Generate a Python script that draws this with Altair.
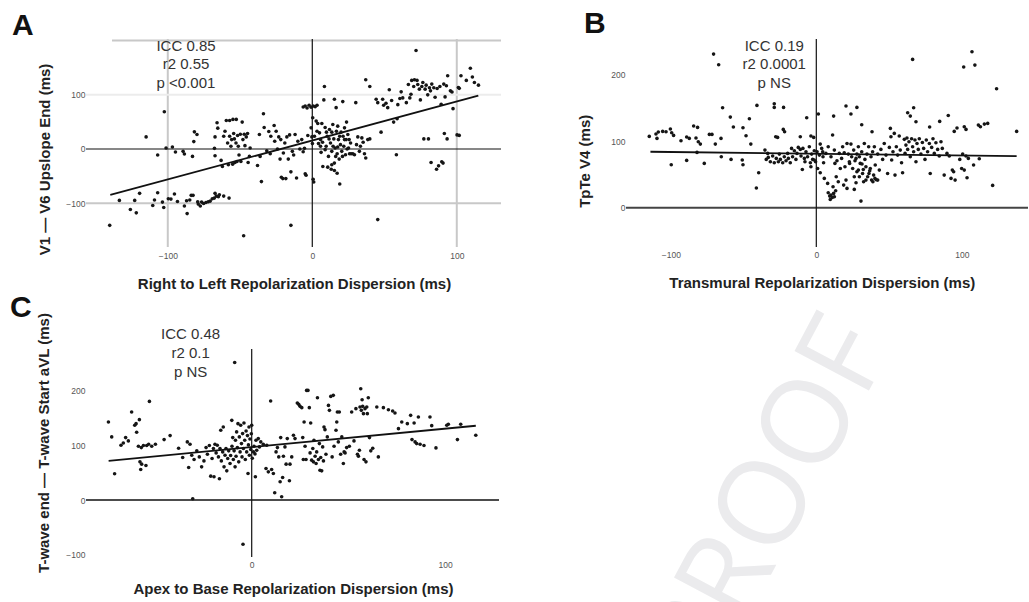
import altair as alt
import pandas as pd

FONT = "Liberation Sans"

# ---------------- Panel A data (x: Right-to-left dispersion, y: V1-V6 upslope end) ----------------
A_POINTS = [
    (-140.2, -140.6), (-133.5, -94.7), (-125.9, -111.5), (-122.9, -94.7), (-121.8, -117.6), (-119.5, -81.7),
    (-115.0, 22.3), (-110.4, -104.0), (-109.2, -94.0), (-107.0, -80.5), (-107.0, -11.0), (-103.7, -97.8),
    (-102.8, -107.7), (-102.4, 68.7), (-101.2, 1.9), (-99.6, -91.6), (-97.8, -92.3), (-96.8, 3.7),
    (-95.4, -83.0), (-94.7, -5.6), (-93.3, -96.6), (-89.4, -4.3), (-88.5, -9.3), (-88.5, -105.0),
    (-87.0, -95.4), (-86.6, -119.0), (-84.8, -94.0), (-83.8, -85.4), (-82.9, -13.6), (-82.5, -85.4),
    (-82.0, 13.6), (-81.6, 31.6), (-79.8, 26.6), (-79.3, -97.2), (-78.9, -101.5), (-77.5, -105.0),
    (-76.6, -97.8), (-75.2, -100.3), (-73.6, -98.5), (-72.0, -97.2), (-70.6, -96.0), (-69.2, -91.6),
    (-67.8, -90.4), (-67.3, -81.7), (-66.4, -86.7), (-65.0, -87.9), (-64.3, -84.2), (-61.3, -86.7),
    (-57.6, -90.4), (-47.5, -159.8),
    (-67.7, 1.2), (-67.3, -12.4), (-67.3, 22.3), (-65.9, 48.3), (-65.4, 38.4), (-63.1, -21.0),
    (-62.2, -32.2), (-61.3, 23.5), (-60.4, 32.8), (-59.5, 52.6), (-58.6, 11.1), (-58.1, -29.1),
    (-57.2, 23.5), (-57.2, 52.6), (-56.3, 5.0), (-55.8, 17.3), (-55.1, -27.9), (-54.9, 54.5),
    (-54.4, 28.5), (-53.9, 18.6), (-53.5, -24.8), (-52.8, 11.1), (-52.6, 54.5), (-52.1, -22.9),
    (-51.7, 24.8), (-51.2, 5.0), (-50.7, -11.1), (-49.8, 27.2), (-49.4, -22.9), (-48.5, 49.5),
    (-48.0, 17.3), (-47.1, 27.2), (-46.6, 6.2), (-45.7, 22.3), (-44.8, 28.5), (-44.4, -24.8),
    (-43.5, -13.6), (-43.0, 1.9), (-37.9, -30.3), (-36.6, 26.6), (-36.1, -13.6), (-35.2, -60.0),
    (-33.8, 65.0), (-33.3, 39.6), (-31.5, -3.1), (-30.1, 32.2), (-29.1, -8.7), (-28.7, 23.5),
    (-26.4, 43.3), (-26.0, 14.2), (-25.0, 32.8), (-24.1, 0.0), (-23.2, 22.3), (-22.3, -18.6),
    (-21.8, 17.3), (-21.4, -52.0), (-20.4, -54.5), (-20.0, -7.4), (-19.0, 11.1), (-18.3, -54.5),
    (-17.6, 22.3), (-16.6, -18.6), (-15.7, 26.0), (-14.8, -42.1), (-14.8, -140.6), (-13.8, -4.3),
    (-12.9, -11.1), (-11.9, 26.6), (-10.9, -53.3), (-10.0, 14.2), (-8.6, 0.0), (-7.3, 17.3),
    (-6.3, -5.0), (-5.4, 1.2), (-4.9, -45.8), (-4.3, -48.3), (-3.1, 24.8), (-6.3, 77.4),
    (-4.9, 79.3), (-3.6, 75.5), (-2.2, 80.5), (-0.8, 76.8), (0.6, 79.3), (2.0, 78.0),
    (3.3, 80.5), (0.3, 57.6), (-0.8, 39.0), (-0.3, 22.3), (0.1, 9.9), (0.6, -55.7), (1.0, -60.7),
    (2.7, 51.4), (3.8, 47.0), (5.0, 29.7), (5.7, 17.3), (6.1, -6.2), (6.6, 47.0), (7.3, -32.2),
    (8.0, 90.4), (8.4, 115.2), (8.9, 39.6), (9.6, 5.0), (10.3, 23.5), (10.7, -33.4), (11.2, -13.6),
    (11.9, 35.9), (12.6, 11.1), (13.1, -37.2), (13.5, -4.3), (14.2, 45.2), (14.9, 18.6),
    (15.3, 91.6), (15.3, -26.0), (15.8, 1.9), (16.5, 76.2), (16.7, 32.8), (17.2, -8.7),
    (17.6, 42.1), (18.1, 17.3), (18.6, -18.6), (19.0, -64.4), (19.5, 8.0), (19.9, 31.0),
    (20.4, -4.3), (21.1, 87.3), (21.3, 23.5), (21.8, 5.0), (22.3, 39.0), (23.0, -10.5),
    (23.4, 17.3), (23.7, 49.5), (24.6, 26.6), (25.1, 1.9), (25.8, -8.7), (26.5, 11.1),
    (26.9, -8.7), (28.1, -8.7), (29.2, -10.5), (30.1, 85.4), (30.6, 8.0), (31.5, 22.3),
    (32.6, -4.3), (33.3, 5.0), (34.3, 20.4), (35.2, 12.4), (36.1, -8.7), (37.0, -16.7),
    (37.0, 127.6), (38.4, 17.3), (39.8, 18.6), (39.8, 115.2), (44.2, 91.6), (45.3, -130.0),
    (45.3, 85.4), (47.6, 31.0), (48.7, 91.6), (49.4, 80.5), (51.0, 84.2), (52.2, 76.2),
    (53.3, 109.0), (54.9, 89.2), (56.3, 49.5), (58.2, -10.5), (58.7, 55.7), (59.2, 81.7),
    (60.6, 92.9), (61.5, 105.3), (62.6, 94.1), (65.1, 85.4), (66.5, 118.9), (67.5, 94.1),
    (68.3, 100.9), (68.8, 126.3), (70.2, 115.2), (70.7, 127.6), (71.8, 181.4), (72.5, 126.3),
    (73.0, 118.9), (74.1, 110.2), (74.8, 90.4), (75.8, 115.2), (76.5, 122.6), (77.2, 18.6),
    (78.1, 110.2), (78.8, 117.6), (79.9, 99.7), (80.4, 18.6), (81.1, 112.7), (81.8, 107.1),
    (82.2, -24.8), (82.7, 119.5), (84.1, 112.7), (85.0, 95.4), (86.0, -37.2), (86.4, 111.5),
    (87.4, -31.0), (88.3, 115.2), (89.2, 82.4), (89.6, -23.5), (90.5, -26.0), (91.0, 119.5),
    (91.4, 28.5), (91.9, 96.0), (92.8, 116.4), (93.3, 18.6), (93.7, 135.0), (95.6, 107.1),
    (97.4, 74.3), (100.2, 26.0), (101.1, 113.3), (102.9, 135.0), (106.6, 126.3), (109.4, 148.6),
    (110.8, 132.5), (112.2, 122.6), (115.0, 117.6), (101.7, 111.7), (96.7, 105.0), (101.7, 25.0),
    (1.5, 23.5), (3.3, 32.8), (4.3, 9.9), (5.7, 5.0), (7.1, 12.4), (8.9, -1.2), (9.8, 31.0),
    (11.6, 18.6), (13.5, 31.0), (14.4, 5.0), (16.2, -13.6), (17.6, 3.7), (19.0, 23.5),
    (20.9, -13.6), (22.3, 17.3), (24.1, 0.0), (25.5, 17.3), (17.2, -44.6), (13.5, -29.1), (15.3, -39.6),
]
A_FIT_X = [-139.8, 114.9]
A_FIT_Y = [-84.7, 98.2]
A_STATS = ["ICC 0.85", "r2 0.55", "p <0.001"]
A_STATS_X = [-87.4, -87.4, -87.4]
A_STATS_Y = [190.2, 156.0, 121.0]
A_X_TICKS = [-100, 0, 100]
A_Y_TICKS = [-100, 0, 100]
A_GRID_X = [-100, 100]
A_GRID_Y = [-100]
A_GRID_Y_FAINT = [100]
A_TOP_LINE = {"y": [200], "x": [-138.6], "x2": [130.6]}

# ---------------- Panel B data (x: Transmural dispersion, y: TpTe V4) ----------------
B_POINTS = [
    (-70.6, 231.0), (-67.1, 215.0), (66.2, 223.0), (107.0, 234.6), (101.3, 211.5), (109.0, 214.5),
    (123.9, 179.0), (137.7, 114.8), (121.2, 33.6), (-64.4, 150.4), (-59.1, 136.3), (-57.0, 121.3),
    (-50.4, 120.3), (-48.3, 108.3), (-46.0, 133.8), (-45.0, 95.7), (-40.8, 153.9), (-39.6, 52.6),
    (-41.2, 29.6), (-28.9, 156.4), (-28.9, 150.9), (-22.5, 150.9), (-27.9, 106.8), (-26.6, 105.8),
    (-22.7, 117.8), (-21.8, 114.3), (-6.6, 135.3), (-11.0, 106.8), (-3.7, 107.8), (-1.8, 105.8),
    (1.4, 140.9), (11.9, 137.8), (20.4, 152.9), (23.8, 140.9), (27.9, 150.9), (31.2, 124.8),
    (38.3, 114.3), (62.8, 142.9), (64.6, 137.8), (66.9, 150.4), (68.5, 129.3), (77.9, 121.3),
    (84.8, 129.8), (90.7, 138.8), (94.8, 114.8), (96.7, 119.8), (101.7, 121.8), (102.9, 117.8),
    (111.4, 124.3), (112.8, 121.8), (115.5, 125.8), (117.8, 126.8),
    (-114.8, 107.3), (-110.2, 110.8), (-109.5, 104.3), (-108.6, 113.8), (-105.6, 114.8),
    (-103.3, 114.3), (-100.3, 118.3), (-99.4, 112.8), (-98.1, 108.8), (-93.0, 100.8),
    (-89.1, 106.3), (-87.3, 104.3), (-84.3, 122.8), (-82.7, 104.8), (-81.6, 120.8), (-81.1, 99.2),
    (-79.7, 95.7), (-82.0, 83.2), (-89.1, 71.2), (-99.7, 64.7), (-77.0, 66.7), (-73.5, 110.3),
    (-71.7, 110.3), (-69.4, 95.7), (-65.5, 104.3), (-65.3, 76.7), (-58.6, 72.7), (-50.9, 71.7),
    (-50.4, 64.7),
    (-35.3, 86.7), (-33.4, 81.7), (-34.4, 72.7), (-33.0, 75.7), (-31.6, 69.2), (-30.0, 77.7),
    (-28.9, 67.7), (-27.5, 74.2), (-26.1, 69.2), (-25.4, 80.7), (-24.7, 72.7), (-23.1, 67.7),
    (-22.0, 76.7), (-20.8, 70.7), (-19.7, 81.7), (-19.2, 74.2), (-17.9, 67.7), (-17.0, 89.2),
    (-16.3, 76.7), (-15.1, 85.7), (-14.0, 72.7), (-13.3, 81.7), (-12.4, 90.7), (-11.0, 87.7),
    (-10.5, 77.7), (-9.6, 57.6), (-9.2, 89.2), (-8.2, 74.2), (-7.1, 84.2), (-6.0, 76.7),
    (-4.8, 91.7), (-4.1, 67.7), (-3.2, 80.7), (-2.5, 72.7), (-1.4, 85.7), (-0.5, 69.2),
    (0.5, 84.2), (0.9, 59.1), (2.1, 79.2), (2.7, 52.6), (3.7, 89.2), (4.6, 76.7), (5.0, 67.7),
    (5.5, 44.1), (6.6, 81.7), (7.8, 36.6), (8.2, 22.6), (9.2, 17.5), (10.1, 19.0), (11.0, 15.5),
    (11.9, 21.6), (12.4, 16.5), (13.3, 25.6), (9.6, 12.5), (11.5, 31.6), (12.8, 66.7),
    (12.4, 86.7), (13.7, 46.6), (15.1, 39.1), (16.5, 59.1), (18.1, 91.7), (18.8, 34.1),
    (19.7, 61.7), (20.4, 41.6), (21.1, 29.1), (22.0, 80.7), (22.9, 66.7), (23.8, 95.7),
    (24.3, 76.7), (25.0, 59.1), (25.7, 86.7), (26.1, 27.6), (27.3, 74.2), (27.9, 54.1),
    (28.9, 91.7), (29.6, 46.6), (30.2, 66.7), (30.7, 10.0), (31.2, 84.2), (31.8, 51.6),
    (32.5, 39.1), (33.0, 96.7), (33.4, 72.7), (34.1, 61.7), (34.8, 80.7), (35.3, 46.6),
    (36.0, 91.7), (36.7, 55.6), (37.6, 76.7), (38.0, 41.6), (38.7, 84.2), (39.4, 49.1),
    (39.9, 91.7), (40.5, 64.2), (41.2, 42.1), (42.2, 80.7), (43.3, 56.6), (44.4, 87.7),
    (45.6, 72.7), (46.7, 96.7), (47.9, 79.2), (49.0, 51.6), (50.2, 90.7), (50.9, 119.3),
    (51.3, 106.8), (51.8, 71.7), (52.7, 84.2), (53.6, 111.8), (54.1, 49.1), (55.0, 91.7),
    (55.9, 79.2), (57.0, 107.8), (57.7, 86.7), (58.6, 67.7), (59.3, 52.6), (60.5, 102.8),
    (61.0, 81.7), (61.6, 94.2), (62.3, 104.8), (62.8, 87.7), (63.7, 99.2), (64.6, 76.7),
    (65.5, 103.8), (66.2, 91.7), (66.9, 84.2), (67.8, 101.8), (68.5, 69.2), (69.2, 96.7),
    (70.1, 87.7), (70.8, 103.8), (71.9, 80.7), (72.9, 98.2), (73.8, 89.2), (74.7, 72.7),
    (75.6, 101.8), (76.5, 84.2), (77.7, 96.7), (78.3, 51.6), (79.3, 90.7), (80.2, 103.8),
    (81.1, 81.7), (82.2, 97.7), (83.4, 87.7), (84.5, 77.7), (85.7, 99.2), (86.6, 89.2),
    (87.9, 49.1), (89.8, 81.7), (91.4, 77.7), (92.6, 44.1), (93.5, 56.6), (94.4, 54.1),
    (95.4, 41.6), (98.6, 72.7), (99.9, 59.1), (100.6, 80.7), (101.7, 56.6), (102.9, 77.7),
    (103.6, 45.1), (104.5, 74.2), (108.1, 64.2), (112.0, 73.7),
    (2.7, 95.7), (4.4, 84.2), (8.2, 91.7), (10.1, 76.7), (11.2, 109.3), (14.2, 70.7),
    (15.8, 81.7), (17.4, 74.2), (19.2, 82.7), (21.1, 96.7), (22.7, 69.2), (26.6, 70.7),
    (27.9, 80.7), (29.6, 76.7), (31.4, 65.7), (32.3, 57.6), (36.2, 51.6), (37.1, 59.1),
    (38.9, 39.1), (40.3, 44.1), (26.1, 46.6), (27.3, 37.6), (28.9, 56.6), (34.1, 41.6),
    (42.2, 41.6), (-1.4, 71.7), (-3.7, 61.7), (-7.8, 69.2),
]
B_FIT_X = [-114.0, 137.7]
B_FIT_Y = [84.2, 77.7]
B_STATS = ["ICC 0.19", "r2 0.0001", "p NS"]
B_STATS_X = [-28.9, -28.9, -28.9]
B_STATS_Y = [243.6, 215.6, 187.0]
B_X_TICKS = [-100, 0, 100]
B_Y_TICKS = [0, 100, 200]

# ---------------- Panel C data (x: Apex-to-base dispersion, y: T-wave end - start aVL) ----------------
C_POINTS = [
    (-74.1, 142.7), (-72.4, 115.4), (-70.9, 48.0), (-67.6, 100.2), (-66.4, 104.4), (-65.2, 114.1),
    (-63.8, 108.1), (-62.1, 160.9), (-60.5, 136.6), (-59.8, 139.6), (-59.5, 123.9), (-58.1, 146.9),
    (-58.6, 98.4), (-57.8, 69.8), (-57.4, 55.9), (-56.9, 65.6), (-57.1, 95.9), (-56.0, 99.6),
    (-54.7, 63.1), (-54.3, 99.6), (-52.9, 180.3), (-53.3, 102.0), (-51.7, 98.4), (-49.8, 102.0),
    (-45.3, 110.5), (-42.2, 117.8), (-37.8, 94.7), (-35.7, 77.7), (-33.3, 106.3), (-32.6, 59.5),
    (-31.9, 102.0), (-31.0, 82.0), (-30.5, 2.4), (-29.8, 74.1), (-28.4, 89.9), (-27.1, 78.9),
    (-25.9, 60.7), (-24.7, 71.6), (-23.6, 95.9), (-22.9, 83.8), (-21.9, 99.6), (-21.2, 43.7),
    (-20.5, 75.9), (-19.8, 94.1), (-19.5, 42.5), (-19.0, 102.0), (-18.4, 86.2), (-17.8, 100.2),
    (-17.2, 78.9), (-16.7, 38.9), (-16.4, 94.1), (-16.0, 127.5), (-15.7, 71.6), (-15.0, 88.0),
    (-14.7, 133.6), (-14.3, 60.7), (-13.8, 82.0), (-13.3, 94.1), (-12.9, 53.4), (-12.4, 75.9),
    (-11.9, 89.9), (-11.2, 66.8), (-10.9, 81.4), (-10.3, 145.7), (-10.2, 98.4), (-9.8, 114.1),
    (-9.5, 74.1), (-9.1, 89.9), (-8.8, 251.4), (-8.6, 60.7), (-8.4, 109.3), (-8.1, 80.1),
    (-7.8, 124.5), (-7.4, 95.9), (-7.1, 139.6), (-6.7, 69.8), (-6.4, 115.4), (-6.0, 88.0),
    (-5.7, 136.6), (-5.3, 103.2), (-5.0, 78.9), (-4.7, 121.4), (-4.5, -80.8), (-4.3, 94.1),
    (-4.0, 140.9), (-3.6, 109.3), (-3.3, 74.1), (-2.9, 126.3), (-2.6, 88.0), (-2.2, 117.8),
    (-1.9, 48.6), (-1.7, 100.8), (-1.4, 133.6), (-1.2, 82.0), (-0.9, 111.7), (-0.5, 92.3),
    (-0.2, 121.1), (0.0, 136.6), (0.3, 76.5), (0.9, 88.0), (1.2, 98.4), (1.7, 84.4), (1.9, 42.5),
    (2.2, 109.3), (2.6, 91.1), (3.4, 112.3), (4.0, 97.1), (4.7, 106.3), (6.0, 102.0), (7.4, 57.7),
    (7.8, 100.2), (8.6, 51.6), (9.8, 180.9), (10.3, 55.9), (11.2, 48.6), (11.9, 13.4), (12.6, 88.0),
    (13.3, 95.9), (14.0, 78.9), (14.7, 33.4), (15.0, 114.1), (15.5, 6.1), (16.0, 41.3), (16.4, 80.1),
    (17.2, 97.1), (17.8, 65.6), (18.4, 112.3), (19.5, 35.2), (19.8, 65.6), (20.7, 78.9),
    (21.6, 118.4), (22.4, 112.3), (23.6, 177.3), (24.3, 174.9), (25.0, 171.2), (25.9, 168.8),
    (26.4, 114.1), (26.7, 74.1), (27.1, 142.7), (27.6, 98.4), (28.1, 74.1), (28.4, 200.4),
    (29.1, 200.4), (29.8, 168.8), (30.2, 86.2), (30.5, 140.9), (31.0, 72.9), (31.6, 94.1),
    (31.9, 69.8), (32.2, 109.3), (32.8, 80.1), (33.3, 66.8), (33.6, 88.0), (34.0, 187.0),
    (34.5, 74.1), (35.0, 103.2), (35.3, 54.6), (35.7, 77.7), (36.2, 53.4), (36.7, 97.1),
    (37.1, 71.6), (37.4, 133.6), (37.9, 128.7), (38.4, 83.8), (39.1, 115.4), (39.7, 173.0),
    (40.2, 163.9), (40.9, 189.4), (41.6, 78.9), (42.2, 191.3), (42.6, 98.4), (43.6, 127.5),
    (44.0, 142.7), (44.3, 160.9), (44.8, 106.3), (45.3, 160.9), (46.0, 83.8), (46.6, 115.4),
    (47.4, 66.8), (47.8, 88.0), (48.3, 86.2), (49.1, 95.9), (50.5, 98.4), (51.7, 160.9),
    (52.9, 108.1), (53.9, 167.0), (54.7, 83.8), (55.2, 80.1), (55.7, 91.1), (56.0, 170.0),
    (56.4, 203.4), (56.7, 163.9), (57.1, 183.4), (57.4, 171.2), (57.8, 157.9), (58.1, 74.1),
    (58.6, 167.0), (59.1, 69.8), (59.5, 170.0), (59.8, 157.9), (60.3, 187.0), (60.9, 114.1),
    (61.6, 89.9), (62.6, 94.7), (64.7, 170.0), (65.5, 78.9), (68.1, 168.8), (70.7, 165.1),
    (72.9, 162.7), (74.1, 159.1), (75.9, 130.5), (77.6, 142.7), (80.5, 139.6), (82.2, 154.8),
    (82.9, 110.5), (84.0, 140.9), (84.5, 106.3), (85.3, 103.2), (86.2, 151.8), (87.1, 102.0),
    (89.1, 99.6), (92.2, 151.8), (93.1, 136.0), (95.3, 95.3), (100.9, 136.6), (101.7, 138.5),
    (106.4, 110.5), (108.1, 138.5), (115.9, 118.4),
]
C_FIT_X = [-74.0, 115.9]
C_FIT_Y = [71.8, 135.8]
C_STATS = ["ICC 0.48", "r2 0.1", "p NS"]
C_STATS_X = [-31.6, -31.6, -31.6]
C_STATS_Y = [303.0, 268.0, 234.0]
C_X_TICKS = [0, 100]
C_Y_TICKS = [-100, 0, 100, 200]

WATERMARK = ["PROOF"]


def x_axis(values, title, tx, ty, pad):
    return alt.Axis(values=values, title=title, domain=False, ticks=False, tickSize=0, grid=False,
                    labelFont=FONT, labelFontSize=8.5, labelColor="#555555", labelPadding=pad,
                    titleFont=FONT, titleFontSize=15, titleFontWeight="bold", titleColor="#222222",
                    titleX=tx, titleY=ty, titleBaseline="alphabetic", titleAlign="center", titleAngle=0)


def y_axis(values, title, tx, ty):
    return alt.Axis(values=values, title=title, domain=False, ticks=False, tickSize=0, grid=False,
                    labelFont=FONT, labelFontSize=8.5, labelColor="#555555", labelPadding=1,
                    titleFont=FONT, titleFontSize=15, titleFontWeight="bold", titleColor="#222222",
                    titleX=tx, titleY=ty, titleBaseline="alphabetic", titleAlign="center", titleAngle=270)


def panel(points, fit_x, fit_y, stats, stats_x, stats_y, xdom, ydom, width, xax, yax,
          letter, letter_dx, letter_offset, letter_dy, hzero, vzero, extra=()):
    xs = alt.Scale(domain=xdom, nice=False, zero=False)
    ys = alt.Scale(domain=ydom, nice=False, zero=False)

    def X(f="x"):
        return alt.X(f"{f}:Q", scale=xs, axis=xax)

    def Y(f="y"):
        return alt.Y(f"{f}:Q", scale=ys, axis=yax)

    layers = []
    for kind, vals, color, sw in extra:
        if kind == "v":
            layers.append(alt.Chart(pd.DataFrame({"x": vals})).mark_rule(color=color, strokeWidth=sw)
                          .encode(x=X()))
        elif kind == "h":
            layers.append(alt.Chart(pd.DataFrame({"y": vals})).mark_rule(color=color, strokeWidth=sw)
                          .encode(y=Y()))
        elif kind == "seg":
            layers.append(alt.Chart(pd.DataFrame(vals)).mark_rule(color=color, strokeWidth=sw)
                          .encode(y=Y(), x=X(), x2=alt.X2("x2:Q")))
    layers.append(alt.Chart(pd.DataFrame({"y": [0]})).mark_rule(color=hzero[0], strokeWidth=hzero[1])
                  .encode(y=Y()))
    layers.append(alt.Chart(pd.DataFrame({"x": [0]})).mark_rule(color=vzero[0], strokeWidth=vzero[1])
                  .encode(x=X()))
    pdf = pd.DataFrame({"x": [p[0] for p in points], "y": [p[1] for p in points]})
    layers.append(alt.Chart(pdf).mark_circle(size=13, color="#151515", opacity=1).encode(x=X(), y=Y()))
    layers.append(alt.Chart(pd.DataFrame({"x": fit_x, "y": fit_y})).mark_line(color="#111111", strokeWidth=1.8)
                  .encode(x=X(), y=Y()))
    layers.append(alt.Chart(pd.DataFrame({"x": stats_x, "y": stats_y, "t": stats}))
                  .mark_text(font=FONT, fontSize=15, color="#333333", align="center", baseline="middle")
                  .encode(x=X(), y=Y(), text="t:N"))
    return alt.layer(*layers).properties(
        width=width, height=208,
        title=alt.TitleParams(text=letter, anchor="start", frame="group", orient="top", font=FONT,
                              fontSize=30, fontWeight="bold", color="#111111", offset=letter_offset,
                              dx=letter_dx, dy=letter_dy, baseline="alphabetic"))


chart_a = panel(
    A_POINTS, A_FIT_X, A_FIT_Y, A_STATS, A_STATS_X, A_STATS_Y,
    [-156.6, 130.6], [-180.5, 202.6], 415,
    x_axis(A_X_TICKS, "Right to Left Repolarization Dispersion (ms)", 208, 41, 4),
    y_axis(A_Y_TICKS, "V1 \u2014 V6 Upslope End (ms)", -36.3, 120),
    "A", -74, 3, 30, ("#111111", 1.2), ("#111111", 1.2),
    extra=[("v", A_GRID_X, "#c8c8c8", 2), ("h", A_GRID_Y, "#c8c8c8", 2),
           ("h", A_GRID_Y_FAINT, "#ececec", 2), ("seg", A_TOP_LINE, "#c8c8c8", 2)],
)

chart_b = panel(
    B_POINTS, B_FIT_X, B_FIT_Y, B_STATS, B_STATS_X, B_STATS_Y,
    [-130.8, 145.5], [-59.0, 253.7], 402,
    x_axis(B_X_TICKS, "Transmural Repolarization Dispersion (ms)", 195.8, 40, 3),
    y_axis(B_Y_TICKS, "TpTe V4 (ms)", -36.5, 121.8),
    "B", -42, 5, 30, ("#444444", 2), ("#111111", 1.2),
)

chart_c = panel(
    C_POINTS, C_FIT_X, C_FIT_Y, C_STATS, C_STATS_X, C_STATS_Y,
    [-85.7, 127.9], [-104.0, 276.0], 413,
    x_axis(C_X_TICKS, "Apex to Base Repolarization Dispersion (ms)", 207, 36.5, 3),
    y_axis(C_Y_TICKS, "T-wave end \u2014 T-wave Start aVL (ms)", -37.3, 93.5),
    "C", -76, 9, 43.5, ("#111111", 1.4), ("#111111", 1.2),
)

chart_d = alt.Chart(pd.DataFrame({"t": WATERMARK})).mark_text(
    angle=298, align="right", baseline="alphabetic", font="Open Sans", fontWeight=400,
    fontSize=118, color="#ebebed"
).encode(x=alt.value(266), y=alt.value(-2), text="t:N").properties(width=402, height=208)

chart = alt.concat(
    chart_a, chart_b, chart_c, chart_d, columns=2,
    spacing={"row": 102, "column": 125}, bounds="flush",
).properties(
    padding={"left": 10, "top": 9, "right": 0, "bottom": 0},
    autosize=alt.AutoSizeParams(type="pad"),
    background="white",
).configure_view(stroke=None)

chart.save("out.html", embed_options={"renderer": "svg", "actions": False})
